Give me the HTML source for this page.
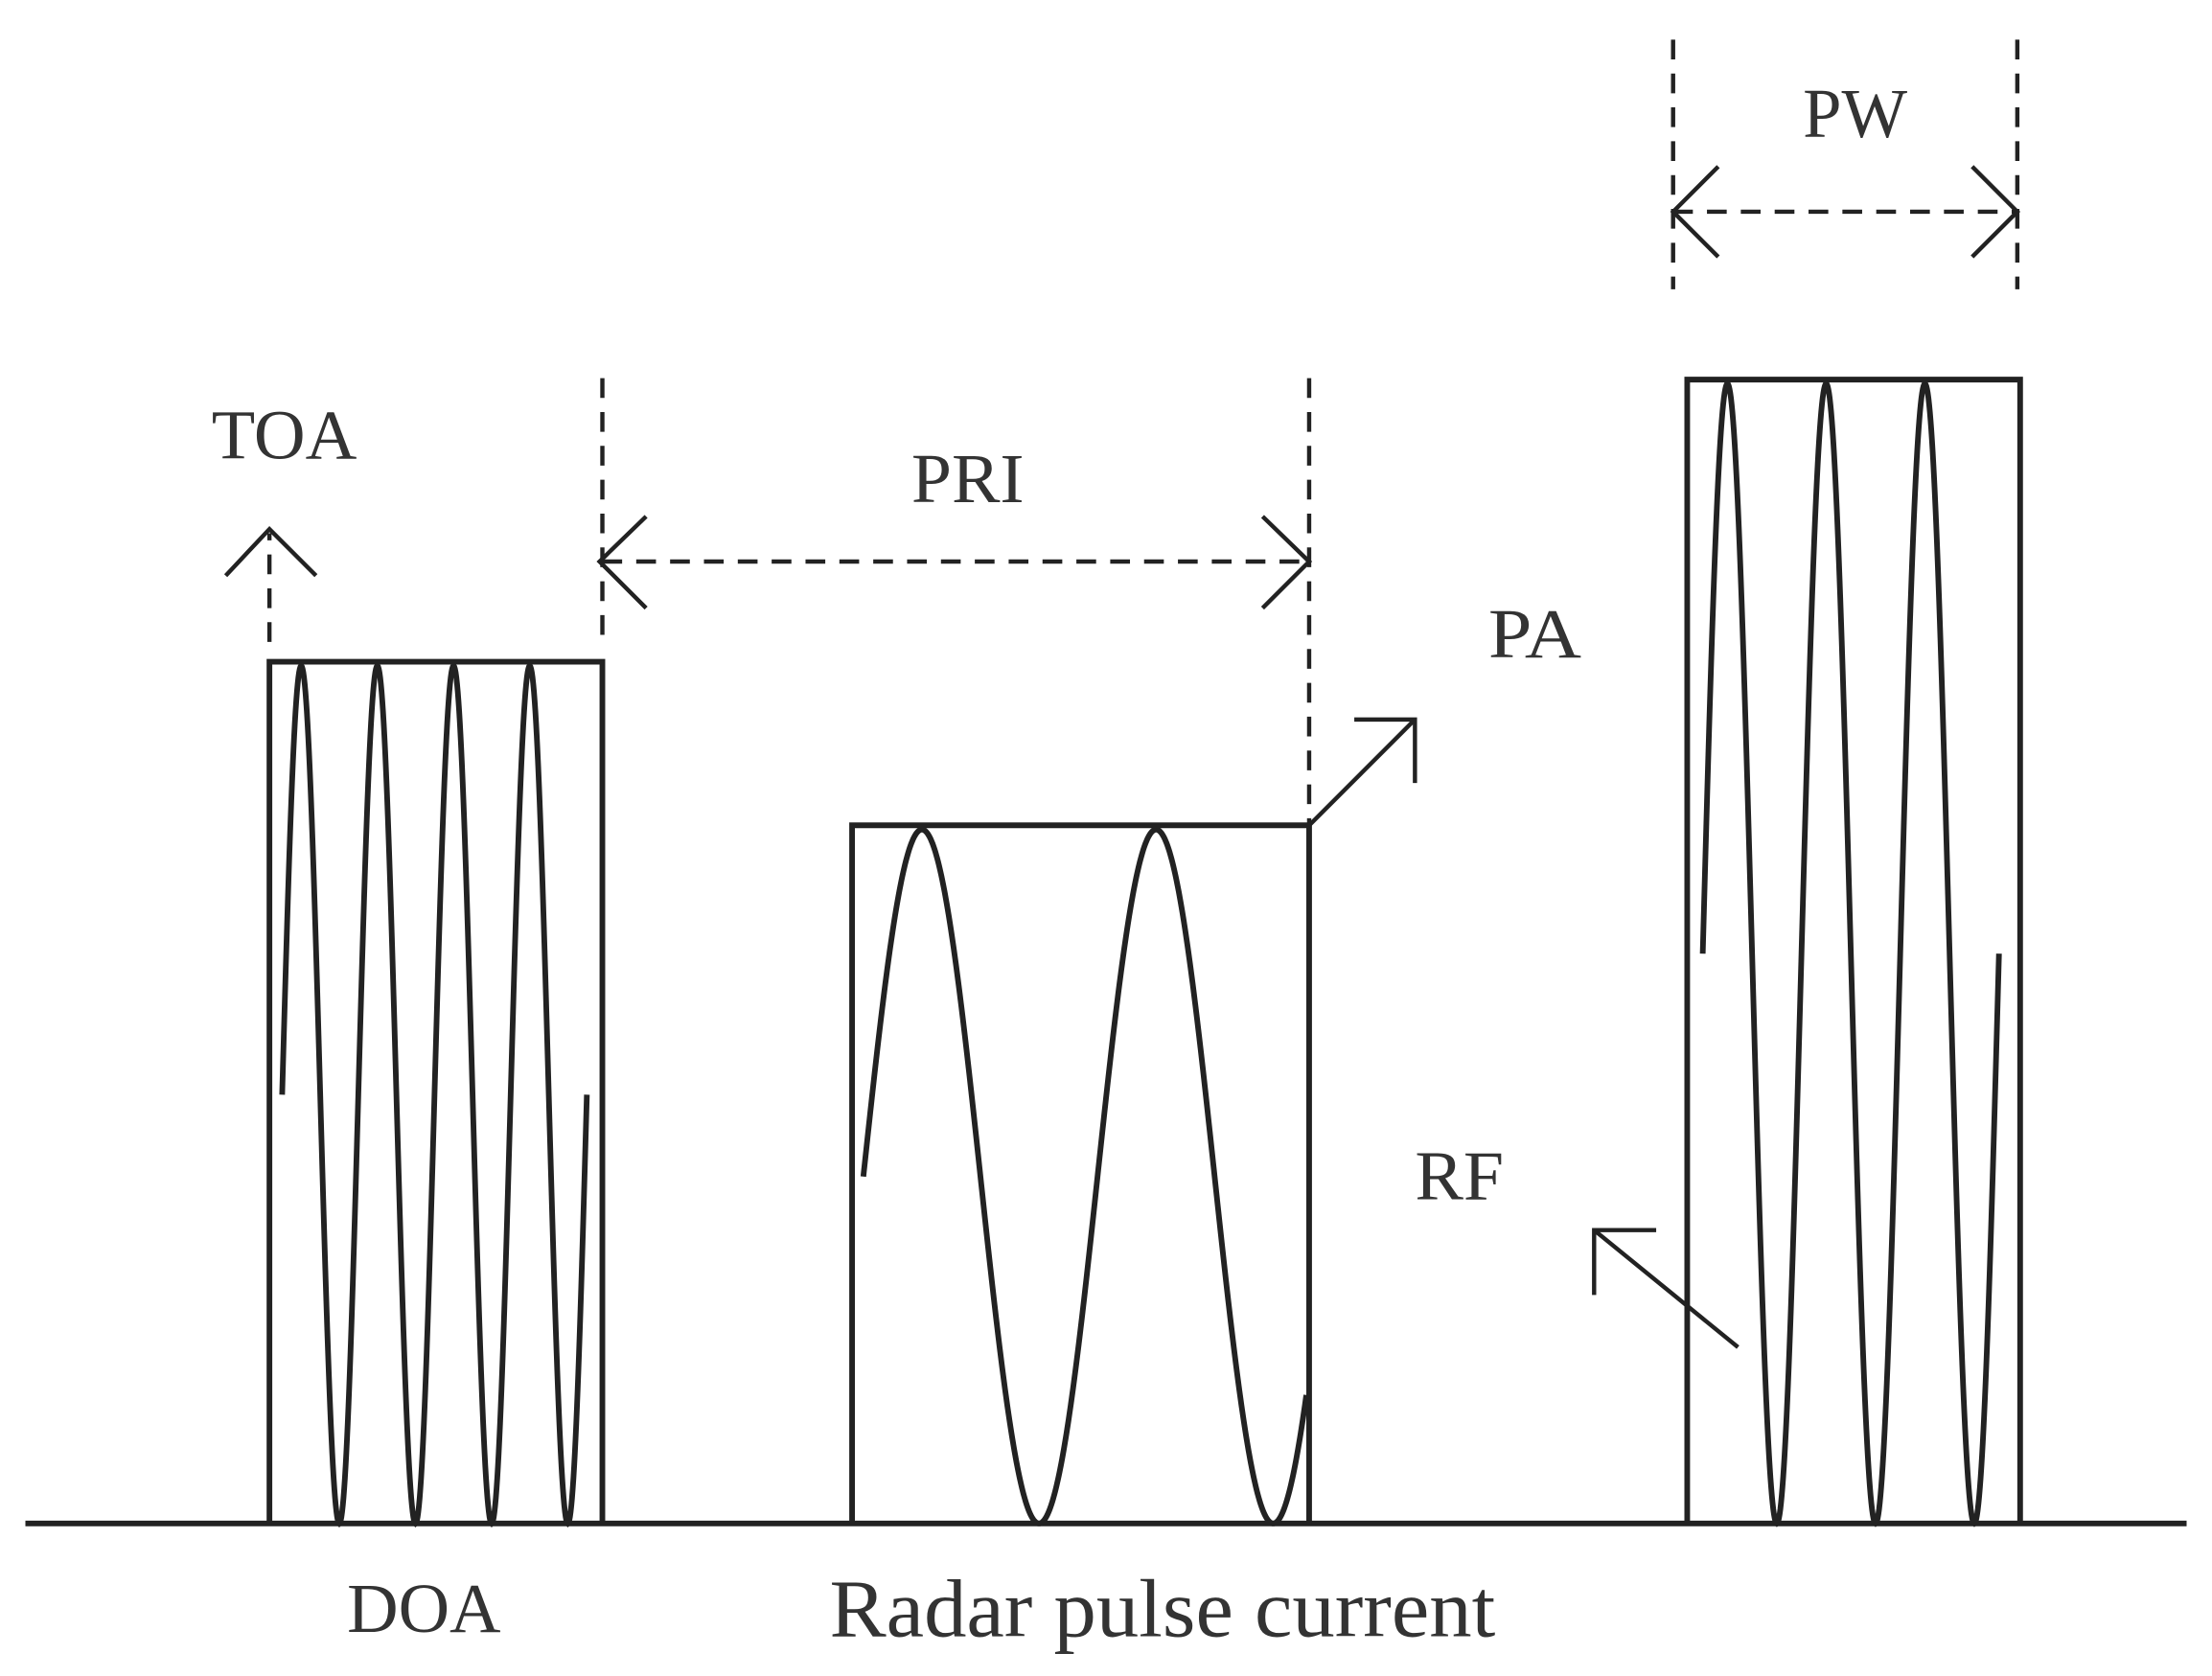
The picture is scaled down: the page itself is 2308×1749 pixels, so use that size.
<!DOCTYPE html>
<html><head><meta charset="utf-8"><style>
html,body{margin:0;padding:0;background:#fff;}
svg{display:block;}
text{font-family:"Liberation Serif",serif;fill:#333;}
</style></head><body>
<svg id="s" width="2308" height="1749" viewBox="0 0 1568 1188" xmlns="http://www.w3.org/2000/svg">
<g stroke="#222" stroke-width="4" fill="none">
<line x1="18" y1="1080" x2="1550" y2="1080"/>
<polyline points="191,1080 191,469 427,469 427,1080"/>
<polyline points="604,1080 604,585 928,585 928,1080"/>
<polyline points="1196,1080 1196,269 1432,269 1432,1080"/>
<g stroke-width="3">
<polyline points="160,408 191,375 224,408"/>
<polyline points="458,366 425,398 458,431"/>
<polyline points="895,366 928,398 895,431"/>
<polyline points="1218,118 1186,150 1218,182"/>
<polyline points="1398,118 1430,150 1398,182"/>
<line x1="928" y1="585" x2="1003" y2="510"/>
<polyline points="960,510 1003,510 1003,555"/>
<line x1="1232" y1="955" x2="1130" y2="872"/>
<polyline points="1130,918 1130,872 1174,872"/>
</g>
<g stroke-width="3" stroke-dasharray="14,10">
<line x1="191" y1="455" x2="191" y2="378"/>
<line x1="427" y1="268" x2="427" y2="455"/>
<line x1="928" y1="268" x2="928" y2="585"/>
<line x1="427" y1="398" x2="928" y2="398"/>
<line x1="1186" y1="28" x2="1186" y2="205"/>
<line x1="1430" y1="28" x2="1430" y2="205"/>
<line x1="1186" y1="150" x2="1430" y2="150"/>
</g>
<path id="w1"/><path id="w2"/><path id="w3"/>
</g>
<text x="150" y="325" font-size="50" textLength="103" lengthAdjust="spacingAndGlyphs">TOA</text>
<text x="646" y="356" font-size="50" textLength="80" lengthAdjust="spacingAndGlyphs">PRI</text>
<text x="1055" y="466" font-size="50" textLength="66" lengthAdjust="spacingAndGlyphs">PA</text>
<text x="1278" y="97" font-size="50" textLength="74" lengthAdjust="spacingAndGlyphs">PW</text>
<text x="1003" y="850" font-size="50" textLength="63" lengthAdjust="spacingAndGlyphs">RF</text>
<text x="246" y="1157" font-size="50" textLength="109" lengthAdjust="spacingAndGlyphs">DOA</text>
<text x="588" y="1160" font-size="58" textLength="472" lengthAdjust="spacingAndGlyphs">Radar pulse current</text>
</svg>
<script>
function w(id,x0,x1,mid,amp,per){var d="";for(var x=x0;x<=x1+0.01;x+=0.5){var y=mid-amp*Math.sin(2*Math.PI*(x-x0)/per);d+=(d?"L":"M")+x.toFixed(1)+","+y.toFixed(1);}document.getElementById(id).setAttribute("d",d);}
w("w1",200,416,776,304,54);
w("w2",612,926,834,246,166);
w("w3",1207,1417,676,404,70);
</script>
</body></html>
